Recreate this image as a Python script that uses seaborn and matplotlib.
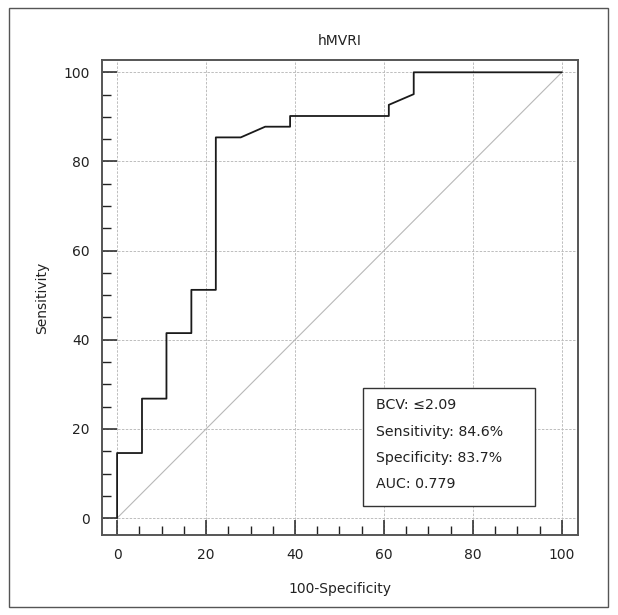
import matplotlib
matplotlib.use("Agg")
import matplotlib.pyplot as plt
import seaborn as sns
import pandas as pd
from matplotlib.patches import Rectangle
from matplotlib.ticker import MultipleLocator

# ROC curve points (100-Specificity, Sensitivity)
fpr = [0, 0, 5.6, 5.6, 11.1, 11.1, 16.7, 16.7, 22.2, 22.2, 27.8, 33.3, 38.9, 38.9, 61.1, 61.1, 66.7, 66.7, 100]
tpr = [0, 14.6, 14.6, 26.8, 26.8, 41.5, 41.5, 51.2, 51.2, 85.4, 85.4, 87.8, 87.8, 90.2, 90.2, 92.7, 95.1, 100, 100]
diag_x = [0, 100]
diag_y = [0, 100]
title = "hMVRI"
xlabel = "100-Specificity"
ylabel = "Sensitivity"
box_lines = ["BCV: \u22642.09", "Sensitivity: 84.6%", "Specificity: 83.7%", "AUC: 0.779"]

sns.set_style("white")
plt.rcParams['font.family'] = ['DejaVu Sans']

fig = plt.figure(figsize=(6.18, 6.15), dpi=100)
ax = fig.add_axes([0.165, 0.130, 0.770, 0.772])

roc = pd.DataFrame({"x": fpr, "y": tpr})
diag = pd.DataFrame({"x": diag_x, "y": diag_y})
sns.lineplot(data=diag, x="x", y="y", ax=ax, color="#b8b8b8", lw=0.8, sort=False, estimator=None, zorder=2)
sns.lineplot(data=roc, x="x", y="y", ax=ax, color="#1a1a1a", lw=1.3, sort=False, estimator=None, zorder=3)

ax.set_xlim(-3.4, 103.6)
ax.set_ylim(-3.8, 102.7)
ax.xaxis.set_major_locator(MultipleLocator(20))
ax.yaxis.set_major_locator(MultipleLocator(20))
ax.xaxis.set_minor_locator(MultipleLocator(5))
ax.yaxis.set_minor_locator(MultipleLocator(5))
ax.tick_params(which="major", direction="in", length=11, width=1.1, color="#222222",
               labelsize=10, pad=9, labelcolor="#222222")
ax.tick_params(which="minor", direction="in", length=6.5, width=1.0, color="#222222")
ax.tick_params(axis="x", which="both", bottom=True, top=False)
ax.tick_params(axis="y", which="both", left=True, right=False)

ax.grid(True, which="major", ls=(0, (2.5, 1.5)), color="#bdbdbd", lw=0.7)
for s in ax.spines.values():
    s.set_color("#555555")
    s.set_linewidth(1.4)

ax.set_title(title, fontsize=10, color="#222222", pad=11)
ax.set_xlabel(xlabel, fontsize=10, color="#222222", labelpad=15)
ax.set_ylabel(ylabel, fontsize=10, color="#222222", labelpad=10)

# annotation box
box = Rectangle((362.7 / 618, 1 - 505.7 / 615), (535.3 - 362.7) / 618, (505.7 - 388.3) / 615,
                transform=fig.transFigure, facecolor="white", edgecolor="#333333", lw=1.0, zorder=5)
fig.patches.append(box)
ys = [405, 432, 458, 484]
for t, yy in zip(box_lines, ys):
    fig.text(376.5 / 618, 1 - yy / 615, t, fontsize=10.2, color="#222222", va="center", ha="left", zorder=6)

# outer frame
frame = Rectangle((9 / 618, 8 / 615), 599 / 618, 599 / 615, transform=fig.transFigure,
                  facecolor="none", edgecolor="#555555", lw=1.0)
fig.patches.append(frame)

fig.savefig("out.png", dpi=100)
